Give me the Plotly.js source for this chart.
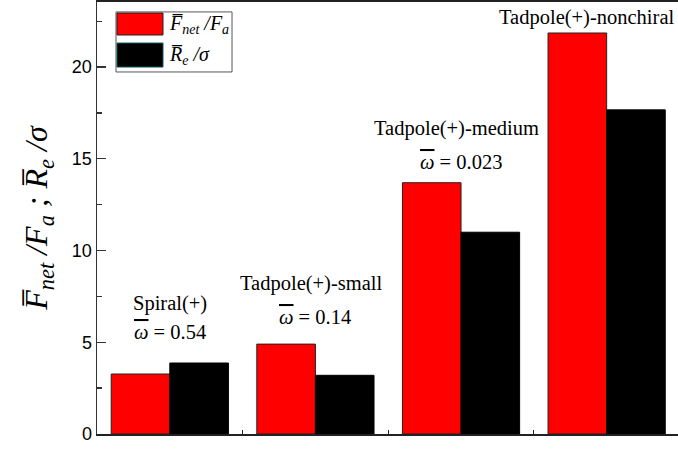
<!DOCTYPE html>
<html>
<head>
<meta charset="utf-8">
<script src="https://cdn.plot.ly/plotly-3.0.1.min.js"></script>
<style>html,body{margin:0;padding:0;background:#fff;}#chart{width:678px;height:449px;}</style>
</head>
<body>
<div id="chart"></div>
<script>
const categories = ["Spiral(+)", "Tadpole(+)-small", "Tadpole(+)-medium", "Tadpole(+)-nonchiral"];
const omegaLabels = ["0.54", "0.14", "0.023", null];
const fnetFa = [3.27, 4.9, 13.7, 21.86];
const reSigma = [3.87, 3.2, 11.0, 17.67];
const yTickVals = [0, 5, 10, 15, 20];

const xIdx = categories.map((c, i) => i);
const serif = "Liberation Serif";

const traces = [
  {type: "bar", x: xIdx, y: fnetFa, name: "Fnet/Fa",
   marker: {color: "#ff0000", line: {color: "#222", width: 1}}},
  {type: "bar", x: xIdx, y: reSigma, name: "Re/sigma",
   marker: {color: "#000000", line: {color: "#000", width: 1}}}
];

const nameY = [7.14, 8.23, 16.68, 22.68];
const omegaY = [5.56, 6.38, 14.83, null];
const nameShift = [0, -4, -5, -20];
const annotations = [];
categories.forEach((c, i) => {
  annotations.push({x: i, y: nameY[i], xref: "x", yref: "y", text: c, showarrow: false, xshift: nameShift[i],
    font: {family: serif, size: 20.5, color: "#000"}, xanchor: "center", yanchor: "middle"});
  if (omegaLabels[i] !== null) {
    annotations.push({x: i, y: omegaY[i], xref: "x", yref: "y",
      text: "<span style=\"text-decoration:overline\"><i>\u03C9</i></span> = " + omegaLabels[i], showarrow: false,
      font: {family: serif, size: 20.5, color: "#000"}, xanchor: "center", yanchor: "middle"});
  }
});
annotations.push({x: 0.1205, y: 0.949, xref: "paper", yref: "paper", xanchor: "left", yanchor: "middle",
  showarrow: false, text: "<i>F\u0305<sub>net</sub> /F<sub>a</sub></i>", font: {family: serif, size: 20, color: "#000"}});
annotations.push({x: 0.1205, y: 0.877, xref: "paper", yref: "paper", xanchor: "left", yanchor: "middle",
  showarrow: false, text: "<i>R\u0305<sub>e</sub> /\u03C3</i>", font: {family: serif, size: 20, color: "#000"}});

const shapes = [
  {type: "rect", xref: "paper", yref: "paper", x0: 0.0327, x1: 0.2324, y0: 0.838, y1: 0.977,
   line: {color: "#555", width: 1}, fillcolor: "rgba(255,255,255,0)"},
  {type: "rect", xref: "paper", yref: "paper", x0: 0.0344, x1: 0.1136, y0: 0.9236, y1: 0.9745,
   line: {color: "#222", width: 1}, fillcolor: "#ff0000"},
  {type: "rect", xref: "paper", yref: "paper", x0: 0.0344, x1: 0.1136, y0: 0.8495, y1: 0.905,
   line: {color: "#0a5a5a", width: 1}, fillcolor: "#000000"}
];

const layout = {
  width: 678, height: 449,
  margin: {l: 97, r: 0, t: 2, b: 15},
  paper_bgcolor: "#fff", plot_bgcolor: "#fff",
  showlegend: false,
  barmode: "group", bargap: 0.195, bargroupgap: 0,
  xaxis: {range: [-0.5, 3.49], tickvals: [0.5, 1.5, 2.5], showticklabels: false,
    ticks: "inside", ticklen: 4, tickcolor: "#222", tickwidth: 1,
    showline: true, linecolor: "#222", linewidth: 2, mirror: true, showgrid: false, zeroline: false},
  yaxis: {range: [0, 23.55], tickvals: yTickVals, ticks: "inside", ticklen: 9, tickwidth: 1.3, tickcolor: "#333",
    minor: {dtick: 2.5, ticks: "inside", ticklen: 5, tickwidth: 1.3, tickcolor: "#333", showgrid: false},
    showline: true, linecolor: "#333", linewidth: 1.5, showgrid: false, zeroline: false,
    tickfont: {family: "Liberation Sans", size: 18, color: "#000"},
    title: {text: "<i>F\u0305<sub>net</sub> /F<sub>a</sub> ; R\u0305<sub>e</sub> /\u03C3</i>",
      font: {family: serif, size: 32, color: "#000"}, standoff: 14}},
  annotations: annotations,
  shapes: shapes
};

Plotly.newPlot("chart", traces, layout, {displayModeBar: false, staticPlot: true});
</script>
</body>
</html>
